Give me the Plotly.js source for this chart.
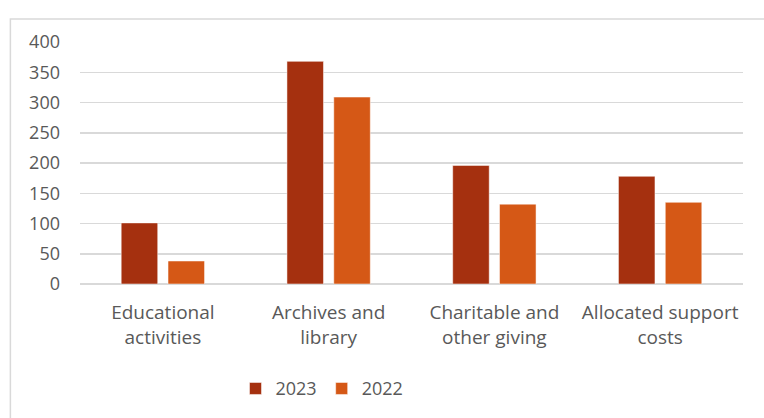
<!DOCTYPE html>
<html>
<head>
<meta charset="utf-8">
<script src="https://cdn.plot.ly/plotly-3.0.1.min.js"></script>
<style>
html,body{margin:0;padding:0;background:#fff;}
#chart{width:764px;height:418px;}
</style>
</head>
<body>
<div id="chart"></div>
<script>
const categories = ["Educational<br>activities", "Archives and<br>library", "Charitable and<br>other giving", "Allocated support<br>costs"];
const values2023 = [101, 368, 196, 178];
const values2022 = [38, 309, 132, 135];
const seriesNames = ["2023", "2022"];
const yTicks = [0, 50, 100, 150, 200, 250, 300, 350, 400];

const textColor = "#595959";
const fontFamily = "'Open Sans', Lato, sans-serif";

const traces = [
  {type: "bar", name: seriesNames[0], x: categories, y: values2023,
   marker: {color: "#A5300F", line: {color: "#ffffff", width: 0.5}}},
  {type: "bar", name: seriesNames[1], x: categories, y: values2022,
   marker: {color: "#D55816", line: {color: "#ffffff", width: 0.5}}}
];

const layout = {
  width: 764, height: 418,
  margin: {l: 80, r: 21, t: 42, b: 133},
  paper_bgcolor: "#ffffff", plot_bgcolor: "#ffffff",
  barmode: "group", bargap: 0.435, bargroupgap: 0.22,
  font: {family: fontFamily, size: 18, color: textColor},
  showlegend: true,
  legend: {orientation: "h", x: 0.365, xanchor: "center", y: -0.427, yanchor: "middle",
           font: {family: fontFamily, size: 18, color: textColor}, traceorder: "normal"},
  xaxis: {type: "category", showgrid: false, zeroline: false, showline: false,
          ticks: "", tickfont: {family: fontFamily, size: 19, color: textColor},
          ticklabelstandoff: 15},
  yaxis: {range: [0, 400], tickvals: yTicks, ticktext: yTicks.map(String),
          showgrid: true, gridcolor: "#d9d9d9", gridwidth: 1.5,
          zeroline: true, zerolinecolor: "#d9d9d9", zerolinewidth: 1.5,
          showline: false, ticks: "",
          tickfont: {family: fontFamily, size: 18, color: textColor},
          ticklabelstandoff: 19},
  shapes: [{type: "rect", xref: "paper", yref: "paper",
            x0: -0.105, x1: 1.3, y0: -0.7, y1: 1.095,
            line: {color: "#d9d9d9", width: 1.5}, fillcolor: "rgba(0,0,0,0)", layer: "below"}]
};

Plotly.newPlot("chart", traces, layout, {displayModeBar: false, staticPlot: true});
</script>
</body>
</html>
